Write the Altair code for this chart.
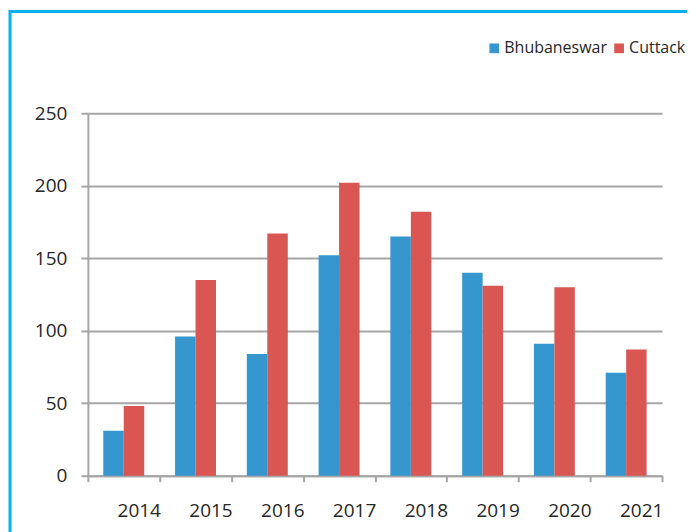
import altair as alt
import pandas as pd

years = ["2014", "2015", "2016", "2017", "2018", "2019", "2020", "2021"]
bhubaneswar = [31, 96, 84, 152, 165, 140, 91, 71]
cuttack = [48, 135, 167, 202, 182, 131, 130, 87]
series = ["Bhubaneswar", "Cuttack"]
colors = ["#3697CF", "#D95652"]
y_ticks = [0, 50, 100, 150, 200, 250]

rows = []
for i, yr in enumerate(years):
    rows.append({"year": yr, "city": series[0], "value": bhubaneswar[i]})
    rows.append({"year": yr, "city": series[1], "value": cuttack[i]})
df = pd.DataFrame(rows)

W, H = 575, 363
FONT = "Open Sans"
GREY = "#A6A6A6"
TXT = "#262626"

bars = alt.Chart(df).mark_bar().encode(
    x=alt.X(
        "year:N", sort=years,
        scale=alt.Scale(paddingInner=0, paddingOuter=0),
        axis=alt.Axis(
            title=None, labelAngle=0, tickBand="extent", labelOffset=15,
            labelPadding=20, labelFontSize=19, labelFont=FONT, labelColor=TXT,
            domainColor=GREY, domainWidth=2, tickColor=GREY, tickWidth=2,
            tickSize=6, grid=False,
        ),
    ),
    xOffset=alt.XOffset("city:N", sort=series,
                        scale=alt.Scale(paddingInner=0, paddingOuter=0.753)),
    y=alt.Y(
        "value:Q",
        scale=alt.Scale(domain=[0, 250], nice=False),
        axis=alt.Axis(
            title=None, values=y_ticks, labelFontSize=19, labelFont=FONT,
            labelColor=TXT, labelPadding=14, domainColor=GREY, domainWidth=2,
            tickColor=GREY, tickWidth=2, tickSize=7, grid=True,
            gridColor=GREY, gridWidth=2,
        ),
    ),
    color=alt.Color(
        "city:N", sort=series,
        scale=alt.Scale(domain=series, range=colors),
        legend=alt.Legend(
            title=None, orient="none", legendX=399, legendY=-73,
            direction="horizontal", symbolType="square", symbolSize=95,
            symbolStrokeWidth=0, labelFontSize=16, labelFont=FONT,
            labelColor=TXT, columnPadding=4, labelOffset=2,
        ),
    ),
)

border = alt.Chart(pd.DataFrame({"k": [0]})).mark_rect(
    fill="transparent", stroke="#0AAFEF", strokeWidth=3
).encode(
    x=alt.value(-78), x2=alt.value(601.5),
    y=alt.value(-102), y2=alt.value(H + 90),
)

chart = alt.layer(border, bars).properties(
    width=W, height=H,
    autosize=alt.AutoSizeParams(type="none"),
    padding={"left": 80, "top": 105, "right": 25, "bottom": 56},
    background="white",
).configure_view(stroke=None)

chart.save("out.html", embed_options={"renderer": "svg", "actions": False})
